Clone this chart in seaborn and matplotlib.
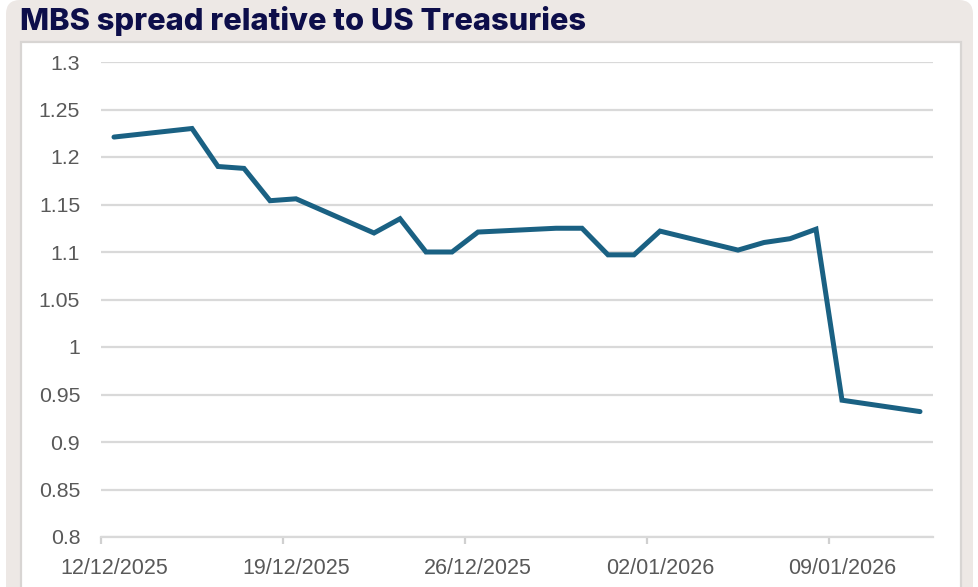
import matplotlib
matplotlib.use("Agg")
import matplotlib.pyplot as plt
import matplotlib.dates as mdates
from matplotlib.patches import FancyBboxPatch, Rectangle
from matplotlib.transforms import Affine2D
from matplotlib.ticker import FuncFormatter, MultipleLocator, NullFormatter
import pandas as pd
import seaborn as sns

# MBS spread over US Treasuries, business days
dates = [
    "2025-12-12", "2025-12-15", "2025-12-16", "2025-12-17", "2025-12-18",
    "2025-12-19", "2025-12-22", "2025-12-23", "2025-12-24", "2025-12-25",
    "2025-12-26", "2025-12-29", "2025-12-30", "2025-12-31", "2026-01-01",
    "2026-01-02", "2026-01-05", "2026-01-06", "2026-01-07", "2026-01-08",
    "2026-01-09", "2026-01-12",
]
spread = [
    1.221, 1.230, 1.190, 1.188, 1.154,
    1.156, 1.120, 1.135, 1.100, 1.100,
    1.121, 1.125, 1.125, 1.097, 1.097,
    1.122, 1.102, 1.110, 1.114, 1.124,
    0.944, 0.932,
]
tick_dates = ["2025-12-12", "2025-12-19", "2025-12-26", "2026-01-02", "2026-01-09"]
title = "MBS spread relative to US Treasuries"

W, H = 979, 587
NAVY = "#0d0e4a"
LINE = "#1a6183"
GRID = "#d9d9d9"
LABEL = "#595959"
FRAME = "#ede8e5"

sns.set_theme(style="white")
plt.rcParams["font.family"] = ["Liberation Sans", "DejaVu Sans"]

half_day = pd.Timedelta(hours=12)
df = pd.DataFrame({"date": pd.to_datetime(dates), "spread": spread})
# each value sits in the middle of its day slot
df["date"] = df["date"] + half_day

fig = plt.figure(figsize=(W / 100, H / 100), dpi=100)
fig.patch.set_facecolor("white")
px = Affine2D().scale(1 / W, 1 / H) + fig.transFigure

# rounded card behind the chart
card = FancyBboxPatch((6, -40), 967, H + 40, boxstyle="round,pad=0,rounding_size=14",
                      transform=px, facecolor=FRAME, edgecolor="none", zorder=-3)
fig.patches.append(card)
panel = Rectangle((21, -20), 940, H + 20 - 42, transform=px, facecolor="white",
                  edgecolor="#d8d5d3", linewidth=1.6, zorder=-2)
fig.patches.append(panel)

fig.text(20 / W, 1 - 30 / H, title, fontsize=22.2, fontweight=800, color=NAVY,
         family=["Inter", "DejaVu Sans"], va="baseline", ha="left")

ax = fig.add_axes([101 / W, 50 / H, 832 / W, 475 / H])
ax.set_zorder(2)
ax.patch.set_alpha(0)

sns.lineplot(data=df, x="date", y="spread", ax=ax, color=LINE, linewidth=3.6,
             solid_joinstyle="miter", solid_capstyle="round")

ax.set_xlim(pd.Timestamp("2025-12-12"), pd.Timestamp("2026-01-13"))
ax.set_ylim(0.8, 1.3)
ax.yaxis.set_major_locator(MultipleLocator(0.05))
ax.yaxis.set_major_formatter(FuncFormatter(lambda v, p: f"{round(v, 2):g}"))

# tick marks at day boundaries, labels centred on the day slot
ticks = pd.to_datetime(tick_dates)
ax.set_xticks(ticks)
ax.xaxis.set_major_formatter(NullFormatter())
ax.set_xticks(ticks + half_day, minor=True)
ax.xaxis.set_minor_formatter(mdates.DateFormatter("%d/%m/%Y"))

ax.grid(axis="y", color=GRID, linewidth=1.6)
ax.grid(axis="x", visible=False)
ax.set_axisbelow(True)
for s in ["top", "right", "left"]:
    ax.spines[s].set_visible(False)
ax.spines["bottom"].set_color(GRID)
ax.spines["bottom"].set_linewidth(1.6)

ax.tick_params(axis="y", length=0, pad=15, labelsize=15.3, labelcolor=LABEL)
ax.tick_params(axis="x", which="major", bottom=True, length=5, width=1.6,
               color="#d0d0d0")
ax.tick_params(axis="x", which="minor", bottom=True, length=0, pad=15,
               labelbottom=True, labelsize=15.5, labelcolor=LABEL)
ax.set_xlabel("")
ax.set_ylabel("")

fig.savefig("out.png", dpi=100)
